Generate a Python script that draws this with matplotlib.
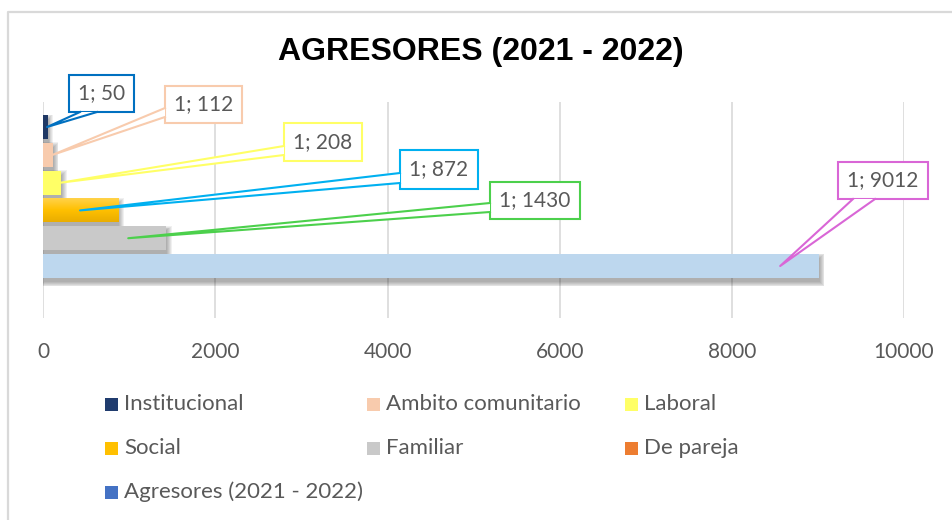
import matplotlib
matplotlib.use("Agg")
import matplotlib.pyplot as plt
import numpy as np
from matplotlib.patches import Rectangle, Polygon
from matplotlib.lines import Line2D
from matplotlib.colors import LinearSegmentedColormap

# ---------------- data ----------------
series = ["Institucional", "Ambito comunitario", "Laboral", "Social",
          "Familiar", "De pareja", "Agresores (2021 - 2022)"]
values = [50, 112, 208, 872, 1430, 9012, None]
category = "1"
x_ticks = [0, 2000, 4000, 6000, 8000, 10000]
title = "AGRESORES (2021 - 2022)"

# ---------------- style ----------------
bar_colors = ["#1F3864", "#F8CBAD", "#FFFF66", "#FFC000", "#C9C9C9", "#BDD7EE", "#4472C4"]
legend_colors = ["#203C6E", "#F8CBAD", "#FFFF66", "#FFC000", "#C9C9C9", "#ED7D31", "#4472C4"]
label_edge = ["#0070C0", "#F8CBAD", "#FFFF66", "#00B0F0", "#4CD04C", "#D966D6", None]
TXT = "#595959"
FONT = "Lato"

W, H = 952, 520
fig = plt.figure(figsize=(W / 100, H / 100), dpi=100)

def fx(x):
    return x / W

def fy(y):
    return 1 - y / H

# chart border
fig.add_artist(Line2D([fx(8), fx(8), fx(W + 5)], [fy(H + 5), fy(12), fy(12)],
                      transform=fig.transFigure, color="#D9D9D9", lw=1.6))

ax_l, ax_r, ax_t, ax_b = 43.3, 904, 102, 318
ax = fig.add_axes([fx(ax_l), fy(ax_b), fx(ax_r - ax_l), (ax_b - ax_t) / H])
ax.set_xlim(0, 10000)
ax.set_ylim(6.87, -0.9)
for s in ax.spines.values():
    s.set_visible(False)
ax.set_xticks(x_ticks)
ax.set_xticklabels([str(t) for t in x_ticks], fontsize=15, color=TXT, family=FONT)
ax.tick_params(axis="x", length=0, pad=17)
ax.set_yticks([])
ax.grid(axis="x", color="#D9D9D9", lw=1.2, zorder=0)
ax.set_axisbelow(True)

bh = 0.86
px_x = 10000 / (ax_r - ax_l)
px_y = 1 / 27.8

# shadows
for i, v in enumerate(values):
    if not v:
        continue
    for k in range(6):
        sp = k * 0.9
        ax.add_patch(Rectangle((0 + 1 * px_x - sp * px_x, i - bh / 2 + 4 * px_y - sp * px_y),
                               v + 2 * sp * px_x, bh + 2 * sp * px_y,
                               color="black", alpha=0.06, lw=0, zorder=1))

for i, v in enumerate(values):
    if not v:
        continue
    b = ax.barh(i, v, height=bh, color=bar_colors[i], zorder=2)
    if series[i] == "Social":
        cm = LinearSegmentedColormap.from_list("g", ["#FFD24A", "#FFC000", "#E9AD00"])
        grad = np.linspace(0, 1, 64).reshape(-1, 1)
        im = ax.imshow(grad, cmap=cm, aspect="auto",
                       extent=(0, v, i + bh / 2, i - bh / 2), zorder=2.5)
        im.set_clip_path(b.patches[0])
ax.set_xlim(0, 10000)
ax.set_ylim(6.87, -0.9)

# title
fig.text(fx(481), fy(52), title, ha="center", va="center", fontsize=23,
         fontweight="bold", family="Liberation Sans", color="black")

# data label callouts (pixel boxes + wedge bases)
boxes = [(69, 75, 134, 112), (165, 86, 242, 123), (284, 123, 362, 161),
         (400, 150, 478, 189), (490, 182, 580, 219), (838, 162, 928, 199)]
bases = [((80, 112), (97, 112)), ((165, 108), (165, 117)), ((284, 146), (284, 155)),
         ((400, 173), (400, 183)), ((490, 203), (490, 212)), ((853, 199), (875, 199))]
tip_frac = [0.86, 0.98, 1.0, 0.49, 0.69, 0.95]

fig.canvas.draw()
for i, v in enumerate(values):
    if not v:
        continue
    x0, y0, x1, y1 = boxes[i]
    col = label_edge[i]
    fig.add_artist(Rectangle((fx(x0), fy(y1)), fx(x1 - x0), (y1 - y0) / H,
                             transform=fig.transFigure, fc="white", ec=col, lw=1.5, zorder=5))
    tx, ty = ax.transData.transform((v * tip_frac[i], i))
    tip = (tx / W, ty / H)
    (bx0, by0), (bx1, by1) = bases[i]
    p0 = (fx(bx0), fy(by0))
    p1 = (fx(bx1), fy(by1))
    fig.add_artist(Polygon([p0, tip, p1], closed=True, transform=fig.transFigure,
                           fc="white", ec="none", zorder=6))
    fig.add_artist(Line2D([p0[0], tip[0], p1[0]], [p0[1], tip[1], p1[1]],
                          transform=fig.transFigure, color=col, lw=1.5, zorder=6))
    fig.text(fx((x0 + x1) / 2), fy((y0 + y1) / 2), f"{category}; {v}", ha="center",
             va="center", fontsize=15, color=TXT, family=FONT, zorder=7)

# legend (manual grid)
col_x = [105, 367, 625]
row_y = [404, 448, 492]
for i, name in enumerate(series):
    r, c = divmod(i, 3)
    x, y = col_x[c], row_y[r]
    fig.add_artist(Rectangle((fx(x), fy(y + 6.5)), fx(13), 13 / H,
                             transform=fig.transFigure, fc=legend_colors[i], ec="none"))
    fig.text(fx(x + 19), fy(y), name, ha="left", va="center", fontsize=16,
             color=TXT, family=FONT)

fig.savefig("out.png", dpi=100)
